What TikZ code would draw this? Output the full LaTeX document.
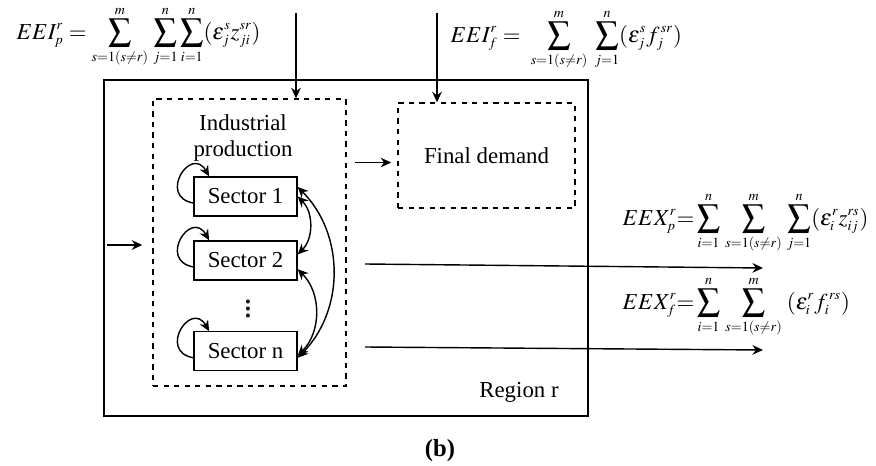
\documentclass[tikz,border=0pt]{standalone}
\usepackage{mathptmx}
\usepackage[no-math]{fontspec}
\setmainfont{Liberation Serif}
\DeclareMathSizes{13}{13}{8}{6}
\usetikzlibrary{arrows.meta,positioning}
\begin{document}
\begin{tikzpicture}[x=0.02cm, y=-0.02cm, thick, font=\fontsize{13}{15}\selectfont,
  >={Stealth[length=6pt,width=5.5pt]},
  sector/.style = {draw, minimum width=2.06cm, minimum height=0.78cm},
  group/.style = {draw, dashed},
  selfloop/.style = {->, out=170, in=120, looseness=3}]
  \useasboundingbox (0,0) rectangle (876,466);
  % boxes
  \node[draw, minimum width=9.68cm, minimum height=6.72cm] (region) at (346,248) {};
  \node[group, minimum width=3.86cm, minimum height=5.74cm] (ip) at (249.5,242.5) {};
  \node[group, minimum width=3.54cm, minimum height=2.1cm] (fd) at (486.5,155.5) {Final demand};
  \node[align=center] (title) at (243,138) {Industrial\\production};
  \node[sector] (s1) at (245.5,196.5) {Sector 1};
  \node[sector, below=0.47cm of s1] (s2) {Sector 2};
  \node[sector, below=1.01cm of s2] (sn) {Sector n};
  \node[font=\fontsize{19}{20}\selectfont] (dots) at (248,304) {$\vdots$};
  \node (reg) at (519,392) {Region r};
  \node[font=\bfseries\fontsize{14}{16}\selectfont] (cap) at (440,451) {(b)};
  % formulas
  \node[anchor=west] (eeip) at (10,37) {$\displaystyle EEI_p^r = \sum_{s=1(s\neq r)}^{m}\,\sum_{j=1}^{n}\sum_{i=1}^{n}(\varepsilon_j^s z_{ji}^{sr})$};
  \node[anchor=west] (eeif) at (444,40) {$\displaystyle EEI_f^r = \;\sum_{s=1(s\neq r)}^{m}\;\sum_{j=1}^{n}(\varepsilon_j^s f_j^{\,sr})$};
  \node[anchor=west] (eexp) at (616,223) {$\displaystyle EEX_p^r {=} \sum_{i=1}^{n}\,\sum_{s=1(s\neq r)}^{m}\,\sum_{j=1}^{n}(\varepsilon_i^r z_{ij}^{rs})$};
  \node[anchor=west] (eexf) at (616,307) {$\displaystyle EEX_f^r {=} \sum_{i=1}^{n}\,\sum_{s=1(s\neq r)}^{m}\;(\varepsilon_i^r f_i^{\,rs})$};
  % connectors
  \coordinate (t1) at (296,13);
  \coordinate (t2) at (437,13);
  \draw[->] (t1) -- (t1 |- ip.north);
  \draw[->] (t2) -- (t2 |- fd.north);
  \coordinate (in) at (107,245);
  \draw[->, shorten >=5.7pt] (in) -- (in -| ip.west);
  \coordinate (mid) at ([yshift=-4pt]fd.west);
  \draw[->, shorten <=5pt, shorten >=3.5pt] (mid -| ip.east) -- (mid);
  \coordinate (o1) at (365,264);
  \coordinate (e1) at (763,268);
  \coordinate (o2) at (365,347);
  \coordinate (e2) at (763,350);
  \draw[->] (o1) -- (e1);
  \draw[->] (o2) -- (e2);
  \foreach \s in {s1,s2,sn}
    \draw[selfloop] ([yshift=-3.7pt]\s.west) to ([xshift=9pt]\s.north west);
  \draw[<->] (s1.east) to[bend left=45] ([yshift=3.4pt]s2.east);
  \draw[<->] ([yshift=-5pt]s2.east) to[bend left=45] ([yshift=-2.5pt]sn.east);
  \draw[<->] ([yshift=5.4pt]s1.east) to[bend left=45] ([yshift=-3.7pt]sn.east);
\end{tikzpicture}
\end{document}
